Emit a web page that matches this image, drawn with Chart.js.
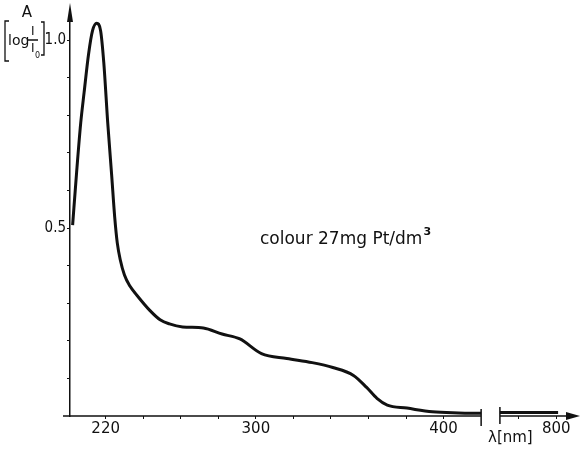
<!DOCTYPE html>
<html>
<head>
<meta charset="utf-8">
<script src="https://cdn.jsdelivr.net/npm/chart.js@4.4.0/dist/chart.umd.min.js"></script>
<style>
    html, body { margin: 0; padding: 0; background: #fff; }
    #wrap { width: 580px; height: 453px; position: relative; }
</style>
</head>
<body>
<div id="wrap"><canvas id="spectrum"></canvas></div>
<script>
// Absorbance (wavelength in nm)
const wavelengths = [202.4, 204.5, 206.7, 208.5, 210.9, 213, 215.2, 217.3, 219, 221.1, 223.2, 224.8, 226.2, 227.8,
    230, 233, 236.5, 243.5, 249, 254, 261, 272, 282, 291.5, 303, 316.5, 330, 341, 352, 359, 364.5, 370, 380.5, 394,
    408, 420];
const absorbance = [0.508, 0.647, 0.779, 0.86, 0.963, 1.025, 1.045, 1.025, 0.94, 0.78, 0.64, 0.53, 0.46, 0.415,
    0.375, 0.345, 0.322, 0.281, 0.256, 0.245, 0.237, 0.234, 0.218, 0.205, 0.166, 0.153, 0.142, 0.129, 0.108, 0.076,
    0.047, 0.029, 0.021, 0.011, 0.008, 0.007];

// part of the curve after the axis break
const farWavelengths = [770, 785, 801];
const farAbsorbance = [0.009, 0.009, 0.009];

// tick marks and the ones that carry a label
const xTicks = [220, 240, 260, 280, 300, 320, 340, 360, 380, 400, 780, 800];
const xLabels = [220, 300, 400, 800];
const yTicks = [0.1, 0.2, 0.3, 0.4, 0.5, 0.6, 0.7, 0.8, 0.9, 1.0];
const yLabels = [0.5, 1.0];

// broken axis: 420 nm .. 770 nm is cut out
const BREAK_FROM = 420;
const BREAK_TO = 770;
const SHIFT = BREAK_TO - 430;
function toAxis(nm) { return nm >= BREAK_TO ? nm - SHIFT : nm; }
function fromAxis(v) { return v >= 430 ? Math.round(v + SHIFT) : Math.round(v); }

const points = wavelengths.map((w, i) => ({ x: toAxis(w), y: absorbance[i] }))
    .concat([{ x: 425, y: null }])
    .concat(farWavelengths.map((w, i) => ({ x: toAxis(w), y: farAbsorbance[i] })));

const INK = '#111';
const FONT = '"DejaVu Sans", sans-serif';
const NARROW = '"DejaVu Sans Condensed", "Liberation Sans Narrow", "DejaVu Sans", sans-serif';

const decorations = {
    id: 'decorations',
    afterDraw(chart) {
        const ctx = chart.ctx;
        const area = chart.chartArea;
        const xs = chart.scales.x;
        const y0 = area.bottom;
        ctx.save();
        ctx.strokeStyle = INK;
        ctx.fillStyle = INK;
        ctx.lineWidth = 1.5;

        // x axis, in two pieces with break marks
        const b1 = xs.getPixelForValue(BREAK_FROM);
        const b2 = xs.getPixelForValue(toAxis(BREAK_TO));
        ctx.beginPath();
        ctx.moveTo(63, y0); ctx.lineTo(b1, y0);
        ctx.moveTo(b2, y0); ctx.lineTo(570, y0);
        ctx.moveTo(b1, y0 - 7); ctx.lineTo(b1, y0 + 10);
        ctx.moveTo(b2, y0 - 9); ctx.lineTo(b2, y0 + 8);
        ctx.stroke();
        ctx.beginPath();
        ctx.moveTo(580, y0); ctx.lineTo(566, y0 - 4); ctx.lineTo(566, y0 + 4);
        ctx.closePath(); ctx.fill();

        // arrow on top of the y axis
        ctx.beginPath();
        ctx.moveTo(area.left, 3); ctx.lineTo(area.left - 3, 22); ctx.lineTo(area.left + 3, 22);
        ctx.closePath(); ctx.fill();

        // y title: A [log I/I0]
        ctx.font = '15px ' + FONT;
        ctx.textAlign = 'center';
        ctx.textBaseline = 'middle';
        ctx.fillText('A', 27, 13);
        ctx.lineWidth = 1.3;
        ctx.beginPath();
        ctx.moveTo(9, 21); ctx.lineTo(5, 21); ctx.lineTo(5, 61); ctx.lineTo(9, 61);
        ctx.moveTo(41, 22); ctx.lineTo(44, 22); ctx.lineTo(44, 55); ctx.lineTo(41, 55);
        ctx.moveTo(28, 40); ctx.lineTo(38, 40);
        ctx.stroke();
        ctx.textAlign = 'left';
        ctx.font = '14px ' + FONT;
        ctx.fillText('log', 8, 41);
        ctx.font = '12px ' + FONT;
        ctx.fillText('I', 31, 32);
        ctx.fillText('I', 31, 49);
        ctx.font = '8px ' + FONT;
        ctx.fillText('0', 35, 56);

        // axis name after the break
        ctx.font = '15px ' + FONT;
        ctx.fillText('λ[nm]', 488, 438);

        // annotation
        ctx.font = '17px ' + FONT;
        ctx.textBaseline = 'alphabetic';
        const txt = 'colour 27mg Pt/dm';
        ctx.fillText(txt, 260, 244);
        const w = ctx.measureText(txt).width;
        ctx.font = 'bold 11px ' + FONT;
        ctx.fillText('3', 260 + w + 1, 235);
        ctx.restore();
    }
};

new Chart(document.getElementById('spectrum').getContext('2d'), {
    type: 'line',
    data: {
        datasets: [{
            data: points,
            borderColor: INK,
            borderWidth: 3,
            pointRadius: 0,
            fill: false,
            spanGaps: false,
            cubicInterpolationMode: 'monotone'
        }]
    },
    options: {
        responsive: true,
        maintainAspectRatio: false,
        animation: false,
        layout: { padding: { top: 6, right: 5, left: 0, bottom: 0 } },
        plugins: {
            legend: { display: false },
            tooltip: { enabled: false }
        },
        scales: {
            x: {
                type: 'linear',
                min: 201,
                max: 470,
                afterFit(scale) { scale.height = 37; },
                afterBuildTicks(scale) {
                    scale.ticks = xTicks.map(v => ({ value: toAxis(v) }));
                },
                border: { display: false },
                grid: { drawOnChartArea: false, color: INK, tickLength: 3, lineWidth: 1 },
                ticks: {
                    autoSkip: false,
                    maxRotation: 0,
                    padding: 1,
                    color: INK,
                    font: { family: FONT, size: 15 },
                    callback: value => xLabels.includes(fromAxis(value)) ? String(fromAxis(value)) : ''
                }
            },
            y: {
                min: 0,
                max: 1.08,
                afterFit(scale) { scale.width = 70; },
                afterBuildTicks(scale) {
                    scale.ticks = yTicks.map(v => ({ value: v }));
                },
                border: { display: true, color: INK, width: 1.5 },
                grid: { drawOnChartArea: false, color: INK, tickLength: 3, lineWidth: 1 },
                ticks: {
                    padding: 1,
                    color: INK,
                    font: { family: NARROW, size: 15 },
                    callback: value => yLabels.some(l => Math.abs(l - value) < 1e-6) ? value.toFixed(1) : ''
                }
            }
        }
    },
    plugins: [decorations]
});
</script>
</body>
</html>
